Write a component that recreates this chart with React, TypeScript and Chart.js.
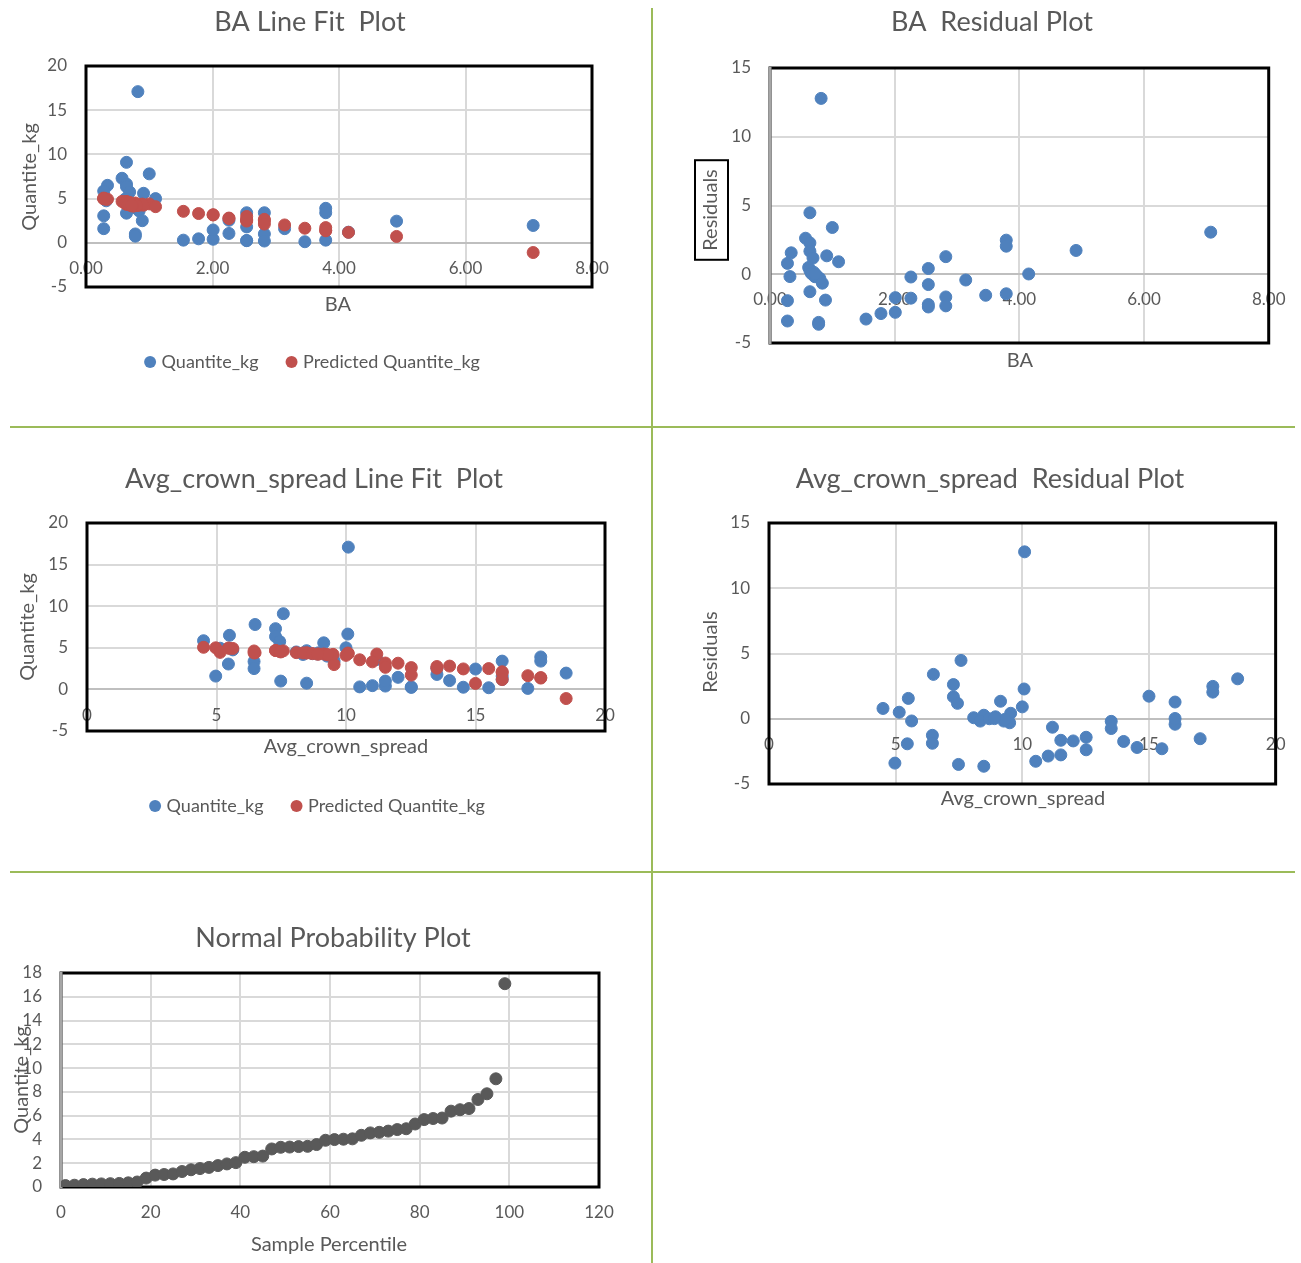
import React, { useEffect, useRef } from 'react';
import { Chart, registerables } from 'chart.js';

Chart.register(...registerables);

// ---------------- data ----------------
// One entry per sample (50 samples)
const ba = [
  0.34, 0.28, 0.32, 0.28, 0.28, 0.57, 0.64, 0.64, 0.64, 0.69,
  0.91, 1.0, 1.1, 0.82, 0.84, 0.64, 0.89, 0.78, 0.78, 1.54,
  1.78, 2.01, 2.01, 2.26, 2.82, 3.46, 3.79, 2.26, 2.54, 2.54,
  2.54, 2.54, 2.82, 2.82, 3.14, 4.15, 3.79, 3.79, 4.91, 7.07,
  0.62, 0.64, 0.66, 0.7, 0.72, 0.76, 0.8, 0.68, 0.74, 0.72,
];
const crownSpread = [
  5.5, 4.5, 5.63, 5.46, 4.97, 7.28, 7.58, 10.07, 7.28, 7.44,
  9.14, 6.49, 10.0, 10.09, 11.19, 6.45, 6.45, 7.48, 8.48, 10.53,
  11.02, 11.52, 12.01, 14.0, 11.52, 17.02, 12.52, 13.51, 9.54, 13.51,
  14.53, 12.52, 15.51, 16.03, 16.03, 16.03, 17.52, 17.52, 15.0, 18.5,
  5.14, 8.48, 8.08, 8.94, 8.34, 9.27, 9.5, 8.7, 9.3, 8.9,
];
const quantiteKg = [
  6.5, 5.85, 4.75, 3.05, 1.6, 7.3, 9.1, 6.65, 6.35, 5.75,
  5.6, 7.8, 5.0, 17.1, 3.6, 3.35, 2.5, 1.0, 0.75, 0.3,
  0.45, 0.4, 1.45, 1.06, 1.0, 0.12, 0.3, 2.55, 3.4, 1.8,
  0.26, 0.24, 0.2, 3.4, 1.6, 1.2, 3.9, 3.4, 2.45, 1.96,
  4.95, 4.65, 4.5, 4.4, 4.2, 4.0, 3.9, 4.3, 4.1, 4.25,
];
const predictedKg = [
  4.94, 5.06, 4.92, 4.97, 5.0, 4.68, 4.63, 4.37, 4.67, 4.57,
  4.26, 4.4, 4.09, 4.31, 4.25, 4.62, 4.38, 4.5, 4.39, 3.56,
  3.31, 3.17, 3.15, 2.8, 2.65, 1.65, 1.72, 2.75, 2.98, 2.55,
  2.46, 2.62, 2.5, 2.12, 2.02, 1.18, 1.42, 1.36, 0.72, -1.1,
  4.45, 4.38, 4.42, 4.25, 4.38, 4.18, 4.21, 4.3, 4.15, 4.24,
];
const residuals = [
  1.56, 0.79, -0.17, -1.92, -3.4, 2.62, 4.47, 2.28, 1.68, 1.18,
  1.34, 3.4, 0.91, 12.79, -0.65, -1.27, -1.88, -3.5, -3.64, -3.26,
  -2.86, -2.77, -1.7, -1.74, -1.65, -1.53, -1.42, -0.2, 0.42, -0.75,
  -2.2, -2.38, -2.3, 1.28, -0.42, 0.02, 2.48, 2.04, 1.73, 3.06,
  0.5, 0.27, 0.08, 0.15, -0.18, -0.18, -0.31, 0.0, -0.05, 0.01,
];
// Normal probability plot
const samplePercentile = [
  1, 3, 5, 7, 9, 11, 13, 15, 17, 19,
  21, 23, 25, 27, 29, 31, 33, 35, 37, 39,
  41, 43, 45, 47, 49, 51, 53, 55, 57, 59,
  61, 63, 65, 67, 69, 71, 73, 75, 77, 79,
  81, 83, 85, 87, 89, 91, 93, 95, 97, 99,
];
const sortedQuantiteKg = [
  0.12, 0.15, 0.2, 0.24, 0.26, 0.28, 0.3, 0.35, 0.42, 0.75,
  1.0, 1.05, 1.1, 1.3, 1.45, 1.55, 1.65, 1.8, 1.94, 2.05,
  2.5, 2.55, 2.6, 3.2, 3.34, 3.36, 3.4, 3.42, 3.57, 3.93,
  3.99, 4.02, 4.05, 4.35, 4.55, 4.6, 4.7, 4.83, 4.9, 5.3,
  5.67, 5.76, 5.8, 6.38, 6.5, 6.6, 7.36, 7.84, 9.1, 17.1,
];

// ---------------- styling ----------------
const FONT_FAMILY = 'Lato, "Open Sans", "DejaVu Sans", sans-serif';
const TEXT_COLOR = '#595959';
const BLUE = '#4F81BD';
const RED = '#C0504D';
const NPP_GREY = '#595959';
const GRID = '#D9D9D9';
const AXIS = '#BFBFBF';
const DIVIDER = '#9BBB59';
const TICK_SIZE = 17;
const AXIS_TITLE_SIZE = 20;
const TITLE_SIZE = 27;
const LEGEND_SIZE = 18;

type Series = { label: string; xs: number[]; ys: number[]; color: string; order: number };
type Spec = {
  id: string;
  frame: { x: number; y: number; w: number; h: number };
  plot: { l: number; r: number; t: number; b: number };
  title: string; titleAt: [number, number];
  xTitle: string; xTitleAt: [number, number];
  yTitle: string; yTitleAt: [number, number]; yTitleBoxed?: boolean;
  legendAt?: [number, number];
  xAxis: { min: number; max: number; step: number; decimals: number };
  yAxis: { min: number; max: number; step: number };
  series: Series[];
  greyLeft?: boolean;
};

const specs: Spec[] = [
  {
    id: 'baFit',
    frame: { x: 0, y: 0, w: 651, h: 427 },
    plot: { l: 86, r: 592, t: 66, b: 287 },
    title: 'BA Line Fit  Plot', titleAt: [310, 22],
    xTitle: 'BA', xTitleAt: [338, 305],
    yTitle: 'Quantite_kg', yTitleAt: [30, 177],
    legendAt: [312, 362],
    xAxis: { min: 0, max: 8, step: 2, decimals: 2 },
    yAxis: { min: -5, max: 20, step: 5 },
    series: [
      { label: 'Quantite_kg', xs: ba, ys: quantiteKg, color: BLUE, order: 1 },
      { label: 'Predicted Quantite_kg', xs: ba, ys: predictedKg, color: RED, order: 0 },
    ],
  },
  {
    id: 'baResid',
    frame: { x: 653, y: 0, w: 648, h: 427 },
    plot: { l: 770, r: 1273, t: 68, b: 343 },
    title: 'BA  Residual Plot', titleAt: [992, 22],
    xTitle: 'BA', xTitleAt: [1020, 361],
    yTitle: 'Residuals', yTitleAt: [711, 210], yTitleBoxed: true,
    xAxis: { min: 0, max: 8, step: 2, decimals: 2 },
    yAxis: { min: -5, max: 15, step: 5 },
    series: [{ label: 'Residuals', xs: ba, ys: residuals, color: BLUE, order: 0 }],
    greyLeft: true,
  },
  {
    id: 'acsFit',
    frame: { x: 0, y: 428, w: 651, h: 444 },
    plot: { l: 87, r: 605, t: 523, b: 731 },
    title: 'Avg_crown_spread Line Fit  Plot', titleAt: [314, 479],
    xTitle: 'Avg_crown_spread', xTitleAt: [346, 747],
    yTitle: 'Quantite_kg', yTitleAt: [28, 627],
    legendAt: [317, 806],
    xAxis: { min: 0, max: 20, step: 5, decimals: 0 },
    yAxis: { min: -5, max: 20, step: 5 },
    series: [
      { label: 'Quantite_kg', xs: crownSpread, ys: quantiteKg, color: BLUE, order: 1 },
      { label: 'Predicted Quantite_kg', xs: crownSpread, ys: predictedKg, color: RED, order: 0 },
    ],
  },
  {
    id: 'acsResid',
    frame: { x: 653, y: 428, w: 648, h: 444 },
    plot: { l: 769, r: 1279, t: 523, b: 784 },
    title: 'Avg_crown_spread  Residual Plot', titleAt: [990, 479],
    xTitle: 'Avg_crown_spread', xTitleAt: [1023, 799],
    yTitle: 'Residuals', yTitleAt: [711, 652],
    xAxis: { min: 0, max: 20, step: 5, decimals: 0 },
    yAxis: { min: -5, max: 15, step: 5 },
    series: [{ label: 'Residuals', xs: crownSpread, ys: residuals, color: BLUE, order: 0 }],
  },
  {
    id: 'npp',
    frame: { x: 0, y: 873, w: 651, h: 390 },
    plot: { l: 61, r: 599, t: 973, b: 1187 },
    title: 'Normal Probability Plot', titleAt: [333, 938],
    xTitle: 'Sample Percentile', xTitleAt: [329, 1245],
    yTitle: 'Quantite_kg', yTitleAt: [22, 1080],
    xAxis: { min: 0, max: 120, step: 20, decimals: 0 },
    yAxis: { min: 0, max: 18, step: 2 },
    series: [{ label: 'Quantite_kg', xs: samplePercentile, ys: sortedQuantiteKg, color: NPP_GREY, order: 0 }],
    greyLeft: true,
  },
];

function makeDecor(spec: Spec) {
  const ox = spec.frame.x;
  const oy = spec.frame.y;
  return {
    id: 'decor_' + spec.id,
    beforeDatasetsDraw(chart: any) {
      const ctx = chart.ctx;
      const a = chart.chartArea;
      ctx.save();
      ctx.strokeStyle = '#000000';
      ctx.lineWidth = 3;
      ctx.strokeRect(a.left, a.top, a.right - a.left, a.bottom - a.top);
      if (spec.greyLeft) {
        ctx.strokeStyle = '#A6A6A6';
        ctx.lineWidth = 3;
        ctx.beginPath();
        ctx.moveTo(a.left, a.top - 1);
        ctx.lineTo(a.left, a.bottom + 1);
        ctx.stroke();
      }
      ctx.restore();
    },
    afterDraw(chart: any) {
      const ctx = chart.ctx;
      ctx.save();
      ctx.fillStyle = TEXT_COLOR;
      ctx.textAlign = 'center';
      ctx.textBaseline = 'middle';
      ctx.font = `${TITLE_SIZE}px ${FONT_FAMILY}`;
      ctx.fillText(spec.title, spec.titleAt[0] - ox, spec.titleAt[1] - oy);
      ctx.font = `${AXIS_TITLE_SIZE}px ${FONT_FAMILY}`;
      ctx.fillText(spec.xTitle, spec.xTitleAt[0] - ox, spec.xTitleAt[1] - oy);
      ctx.save();
      ctx.translate(spec.yTitleAt[0] - ox, spec.yTitleAt[1] - oy);
      ctx.rotate(-Math.PI / 2);
      ctx.fillText(spec.yTitle, 0, 0);
      if (spec.yTitleBoxed) {
        const w = ctx.measureText(spec.yTitle).width;
        ctx.strokeStyle = '#000000';
        ctx.lineWidth = 2;
        ctx.strokeRect(-w / 2 - 9, -16, w + 18, 33);
      }
      ctx.restore();

      if (spec.legendAt) {
        ctx.font = `${LEGEND_SIZE}px ${FONT_FAMILY}`;
        const R = 6;
        const GAP_TXT = 11.5;
        const GAP_ITEM = 33;
        const items = chart.data.datasets.map((d: any) => ({
          label: d.label as string,
          color: d.backgroundColor as string,
          w: ctx.measureText(d.label).width,
        }));
        let total = 0;
        items.forEach((it: any, i: number) => {
          total += R + GAP_TXT + it.w;
          if (i > 0) total += GAP_ITEM - R;
        });
        let x = spec.legendAt[0] - ox - total / 2;
        const y = spec.legendAt[1] - oy;
        ctx.textAlign = 'left';
        items.forEach((it: any, i: number) => {
          if (i > 0) x += GAP_ITEM - R;
          const cx = x + R;
          ctx.fillStyle = it.color;
          ctx.beginPath();
          ctx.arc(cx, y, R, 0, Math.PI * 2);
          ctx.fill();
          ctx.fillStyle = TEXT_COLOR;
          ctx.fillText(it.label, cx + GAP_TXT, y);
          x = cx + GAP_TXT + it.w;
        });
      }
      ctx.restore();
    },
  };
}

function ChartPanel({ spec }: { spec: Spec }) {
  const ref = useRef<HTMLCanvasElement | null>(null);
  useEffect(() => {
    const canvas = ref.current;
    if (!canvas) return;
    const tickFont = { family: FONT_FAMILY, size: TICK_SIZE, lineHeight: 1.2 };
    const yAxisWidth = spec.plot.l - spec.frame.x;
    const chart = new Chart(canvas, {
      type: 'scatter',
      data: {
        datasets: spec.series.map((s) => ({
          label: s.label,
          data: s.xs.map((x, i) => ({ x, y: s.ys[i] })),
          backgroundColor: s.color,
          borderColor: s.color,
          pointRadius: 6,
          pointHoverRadius: 6,
          pointBorderWidth: 1,
          order: s.order,
        })),
      },
      options: {
        animation: false,
        responsive: false,
        devicePixelRatio: 1,
        events: [],
        layout: {
          padding: {
            left: 0,
            top: spec.plot.t - spec.frame.y,
            right: spec.frame.x + spec.frame.w - spec.plot.r,
            bottom: spec.frame.y + spec.frame.h - spec.plot.b,
          },
        },
        plugins: {
          legend: { display: false },
          title: { display: false },
          tooltip: { enabled: false },
        },
        scales: {
          x: {
            type: 'linear',
            position: { y: spec.yAxis.min < 0 ? 0 : spec.yAxis.min } as any,
            min: spec.xAxis.min,
            max: spec.xAxis.max,
            ticks: {
              stepSize: spec.xAxis.step,
              color: TEXT_COLOR,
              font: tickFont,
              padding: 15.5,
              maxRotation: 0,
              autoSkip: false,
              callback: (v: any) => Number(v).toFixed(spec.xAxis.decimals),
            },
            grid: { color: GRID, lineWidth: 2, drawTicks: false },
            border: { display: true, color: AXIS, width: 2 },
          },
          y: {
            type: 'linear',
            position: 'left',
            min: spec.yAxis.min,
            max: spec.yAxis.max,
            ticks: {
              stepSize: spec.yAxis.step,
              color: TEXT_COLOR,
              font: tickFont,
              padding: 19,
              autoSkip: false,
            },
            grid: { color: GRID, lineWidth: 2, drawTicks: false },
            border: { display: true, color: AXIS, width: 2 },
            afterFit: (scale: any) => {
              scale.width = yAxisWidth;
            },
          },
        },
      } as any,
      plugins: [makeDecor(spec)],
    });
    return () => chart.destroy();
  }, [spec]);
  return (
    <canvas
      ref={ref}
      width={spec.frame.w}
      height={spec.frame.h}
      style={{
        position: 'absolute',
        left: spec.frame.x,
        top: spec.frame.y,
        width: spec.frame.w,
        height: spec.frame.h,
      }}
    />
  );
}

export default function App() {
  return (
    <div
      style={{
        position: 'absolute',
        left: 0,
        top: 0,
        width: 1301,
        height: 1263,
        background: '#ffffff',
        overflow: 'hidden',
      }}
    >
      {specs.map((s) => (
        <ChartPanel key={s.id} spec={s} />
      ))}
      <div style={{ position: 'absolute', left: 651, top: 8, width: 2, height: 1255, background: DIVIDER }} />
      <div style={{ position: 'absolute', left: 10, top: 426, width: 1285, height: 2, background: DIVIDER }} />
      <div style={{ position: 'absolute', left: 10, top: 871, width: 1285, height: 2, background: DIVIDER }} />
    </div>
  );
}
